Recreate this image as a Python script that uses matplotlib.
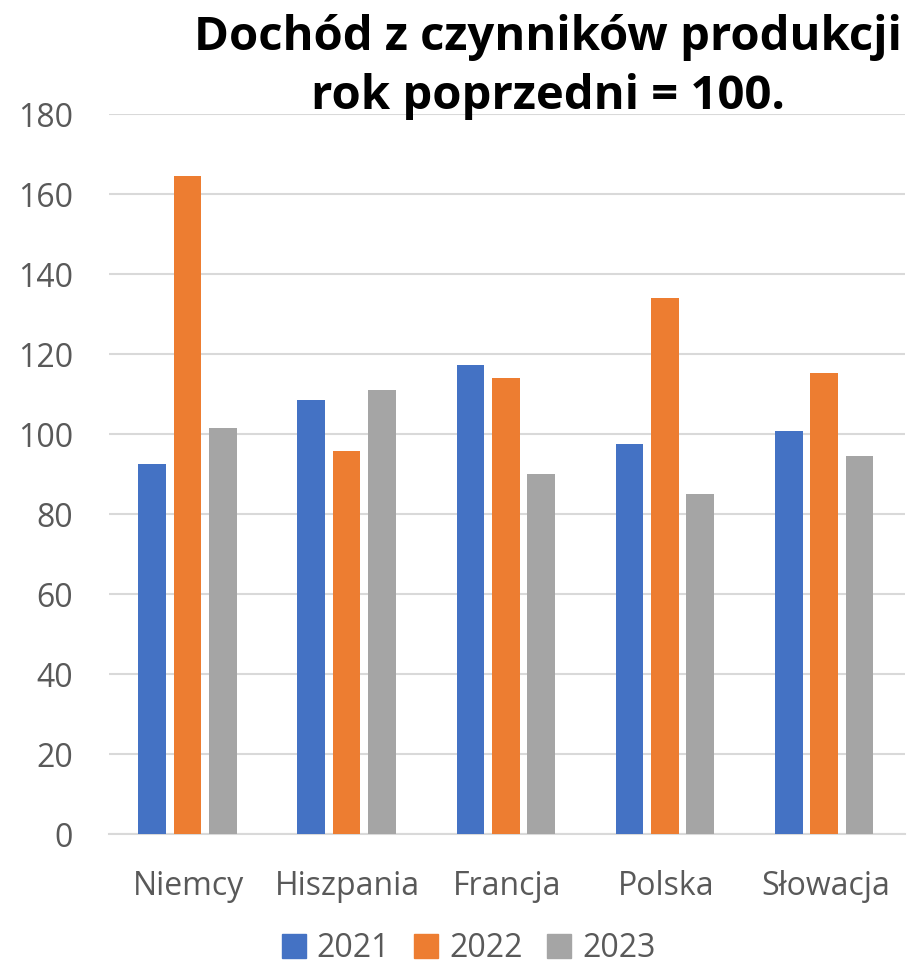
import matplotlib
matplotlib.use("Agg")
import matplotlib.pyplot as plt
import numpy as np
from matplotlib.patches import Patch

plt.rcParams['font.family'] = ['Open Sans', 'DejaVu Sans']

categories = ["Niemcy", "Hiszpania", "Francja", "Polska", "Słowacja"]
years = ["2021", "2022", "2023"]
v2021 = [92.6, 108.7, 117.25, 97.5, 100.8]
v2022 = [164.65, 95.8, 114.1, 134.0, 115.3]
v2023 = [101.5, 111.0, 90.0, 85.0, 94.6]
colors = ["#4472C4", "#ED7D31", "#A5A5A5"]

fig = plt.figure(figsize=(9.17, 9.64), dpi=100)
ax = fig.add_axes([0.1189, 0.1345, 0.987 - 0.1189, 0.8814 - 0.1345])

x = np.arange(len(categories))
w = 0.174
off = 0.222
for i, (vals, c) in enumerate(zip([v2021, v2022, v2023], colors)):
    ax.bar(x + (i - 1) * off - 0.008, vals, width=w, color=c, zorder=3)

ax.set_xlim(-0.5, len(categories) - 0.5)
ax.set_ylim(0, 180)
ax.set_yticks(np.arange(0, 181, 20))
ax.yaxis.grid(True, color="#D9D9D9", linewidth=1.5, zorder=0)
ax.set_axisbelow(True)
for s in ["top", "right", "left"]:
    ax.spines[s].set_visible(False)
ax.spines["bottom"].set_color("#D9D9D9")
ax.spines["bottom"].set_linewidth(1.5)
ax.tick_params(axis="both", length=0, labelsize=23, colors="#595959")
ax.tick_params(axis="y", pad=26)
ax.tick_params(axis="x", pad=26)
ax.set_xticks(x)
ax.set_xticklabels(categories)

fig.text(0.598, 0.985, "Dochód z czynników produkcji\nrok poprzedni = 100.",
         ha="center", va="top", fontsize=34, fontweight="bold",
         linespacing=1.32, color="black")

handles = [Patch(facecolor=c, edgecolor=c) for c in colors]
fig.legend(handles, years, loc="center", bbox_to_anchor=(0.511, 0.016),
           ncol=3, frameon=False, fontsize=23, handlelength=0.75,
           handleheight=0.75, handletextpad=0.35, columnspacing=0.75,
           labelcolor="#595959")

fig.savefig("out.png", dpi=100)
